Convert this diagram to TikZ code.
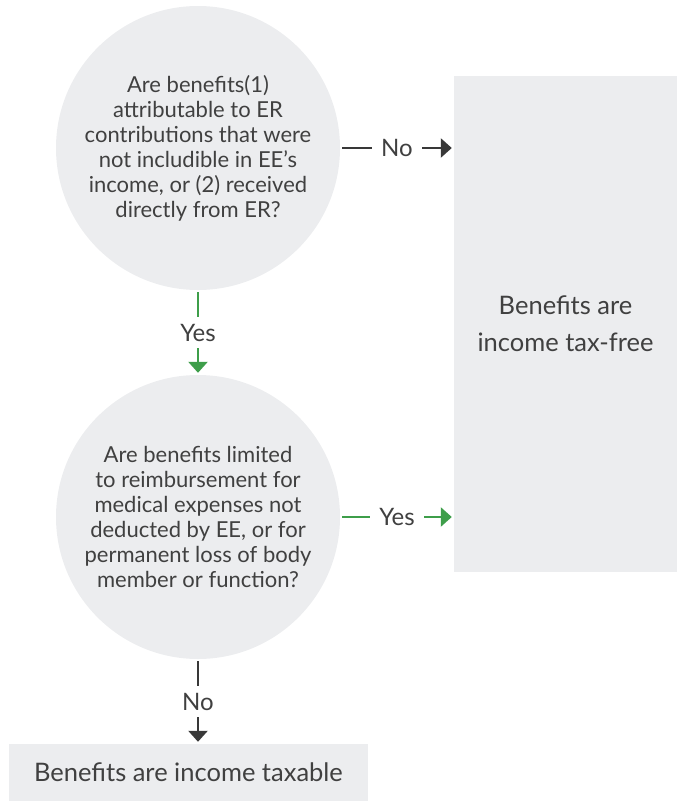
\documentclass[tikz,border=0pt]{standalone}
\usepackage{fontspec}
\setmainfont{Lato}
\usetikzlibrary{arrows.meta}
\definecolor{boxgray}{HTML}{ECEDEF}
\definecolor{txtgray}{HTML}{404040}
\definecolor{yesgreen}{HTML}{3E9E4A}
\definecolor{nogray}{HTML}{383838}

\begin{document}
\begin{tikzpicture}[x=1pt,y=-1pt]
  \tikzstyle{Q}=[circle,fill=boxgray,minimum size=284pt,inner sep=0pt,align=center,text=txtgray,font=\fontsize{22}{25}\selectfont]
  \tikzstyle{R}=[rectangle,fill=boxgray,inner sep=0pt,align=center,text=txtgray,font=\fontsize{25.5}{37}\selectfont]
  \tikzstyle{L}=[fill=white,text=txtgray,inner xsep=9pt,inner ysep=6.5pt,font=\fontsize{24}{25}\selectfont]
  \tikzstyle{yesarrow}=[yesgreen,line width=2.5pt,shorten <=2pt,shorten >=2pt,-{Triangle[length=11pt,width=19pt]}]
  \tikzstyle{noarrow}=[nogray,line width=2.5pt,shorten <=2pt,shorten >=2pt,-{Triangle[length=11pt,width=19pt]}]
  \useasboundingbox (0,0) rectangle (677,801);

  \node[Q] (Q1) at (198,148) {Are benefits(1)\\attributable to ER\\contributions that were\\not includible in EE’s\\income, or (2) received\\directly from ER?};
  \node[Q] (Q2) at (198,517) {Are benefits limited\\to reimbursement for\\medical expenses not\\deducted by EE, or for\\permanent loss of body\\member or function?};
  \node[R,minimum width=223pt,minimum height=496pt] (Free) at (565.5,324) {Benefits are\\income tax-free};
  \node[R,minimum width=359pt,minimum height=57pt] (Tax) at (188.5,772.5) {Benefits are income taxable};

  \draw[noarrow] (Q1.east) -- node[L] {No} (Q1.east -| Free.west);
  \draw[yesarrow] (Q1.south) -- node[L] {Yes} (Q2.north);
  \draw[yesarrow] (Q2.east) -- node[L] {Yes} (Q2.east -| Free.west);
  \draw[noarrow] (Q2.south) -- node[L] {No} (Q2.south |- Tax.north);
\end{tikzpicture}
\end{document}
